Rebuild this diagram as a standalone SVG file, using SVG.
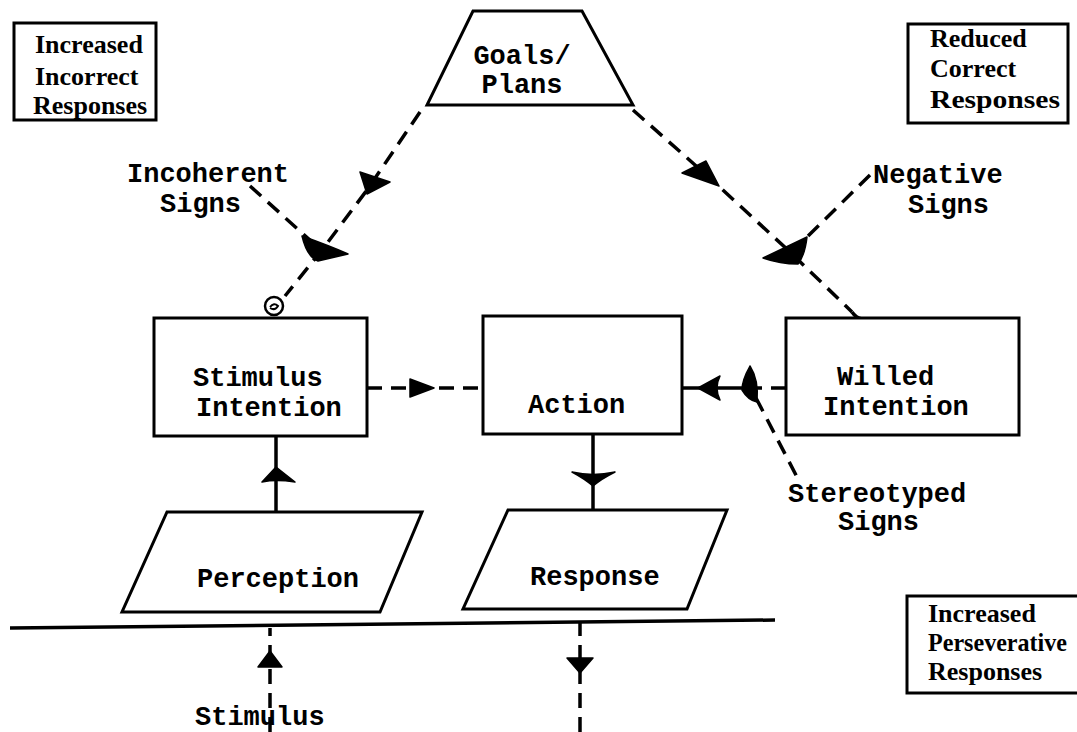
<svg xmlns="http://www.w3.org/2000/svg" width="1077" height="732" viewBox="0 0 1077 732">
<style>
.box{fill:#fff;stroke:#000;stroke-width:3}
.mono{font-family:"Liberation Mono","DejaVu Sans Mono",monospace;font-weight:bold;font-size:27px;fill:#000}
.serif{font-family:"Liberation Serif","Times New Roman",serif;font-weight:bold;font-size:26px;fill:#000}
.dash{fill:none;stroke:#000;stroke-width:3.5;stroke-dasharray:15 9}
.solid{fill:none;stroke:#000;stroke-width:3.5}
.head{fill:#000;stroke:#000;stroke-width:1.5;stroke-linejoin:round}
</style>
<rect width="1077" height="732" fill="#fff"/>

<g id="connectors">
  <!-- Goals to Stimulus Intention -->
  <polyline class="dash" points="420,112 367,190 322,250 285,296"/>
  <!-- Incoherent signs -->
  <line class="dash" x1="250" y1="186" x2="312" y2="242"/>
  <!-- Goals to Willed Intention -->
  <polyline class="dash" points="633,110 712,180 790,252 852,312"/>
  <path class="solid" d="M852,312 Q856,318 862,319" stroke-width="3"/>
  <!-- Negative signs -->
  <line class="dash" x1="870" y1="175" x2="800" y2="244"/>
  <!-- Stimulus Intention to Action -->
  <line class="dash" x1="367" y1="388" x2="483" y2="388"/>
  <!-- Willed Intention to Action -->
  <line class="dash" x1="786" y1="388" x2="756" y2="388"/>
  <line class="solid" x1="745" y1="388" x2="682" y2="388"/>
  <!-- Stereotyped signs -->
  <line class="dash" x1="756" y1="398" x2="797" y2="477"/>
  <!-- Perception to Stimulus Intention -->
  <line class="solid" x1="276" y1="436" x2="276" y2="512"/>
  <!-- Action to Response -->
  <line class="solid" x1="593" y1="434" x2="593" y2="510"/>
  <!-- baseline -->
  <line class="solid" x1="10" y1="628" x2="775" y2="620"/>
  <!-- Stimulus input -->
  <line class="dash" x1="270" y1="732" x2="270" y2="628" stroke-dasharray="13 9"/>
  <!-- Response output -->
  <line class="dash" x1="580" y1="732" x2="580" y2="622" stroke-dasharray="16 10"/>

  <!-- arrowheads -->
  <polygon class="head" points="360,172 390,182 367,194"/>
  <polygon class="head" points="682,173 706,161 719,186"/>
  <polygon class="head" points="410,379 434,388 410,397"/>
  <path class="head" d="M698,388 L720,376 Q714,388 720,400 Z"/>
  <path class="head" d="M276,467 L295,482 Q276,479 262,482 Z"/>
  <path class="head" d="M572,472 Q593,477 615,472 Q601,479 593,486 Q585,479 572,472 Z"/>
  <polygon class="head" points="270,651 282,667 258,667"/>
  <polygon class="head" points="567,658 593,658 580,673"/>
  <!-- junction marks -->
  <path class="head" d="M302,236 Q307,257 318,261 L348,254 Q330,246 302,236 Z"/>
  <path class="head" d="M763,258 L807,237 Q805,255 798,264 Q780,264 763,258 Z"/>
  <path class="head" d="M750,366 Q742,380 742,390 Q748,400 757,402 Q759,380 750,366 Z"/>
  <!-- small loop on Stimulus Intention -->
  <circle cx="274" cy="306" r="9" fill="#fff" stroke="#000" stroke-width="2.5"/>
  <path d="M270,307 Q274,302 278,306 Q275,311 270,308" fill="none" stroke="#000" stroke-width="2"/>
</g>

<g id="goals">
  <polygon class="box" points="473,11 582,11 633,105 427,105"/>
  <text class="mono" x="522" y="64" text-anchor="middle" font-size="23">Goals/</text>
  <text class="mono" x="522" y="93" text-anchor="middle" font-size="23">Plans</text>
</g>

<g id="stimulus-intention">
  <rect class="box" x="154" y="318" width="213" height="118"/>
  <text class="mono" x="193" y="386">Stimulus</text>
  <text class="mono" x="196" y="416">Intention</text>
</g>

<g id="action">
  <rect class="box" x="483" y="316" width="199" height="118"/>
  <text class="mono" x="528" y="413">Action</text>
</g>

<g id="willed-intention">
  <rect class="box" x="786" y="318" width="233" height="117"/>
  <text class="mono" x="837" y="385">Willed</text>
  <text class="mono" x="823" y="415">Intention</text>
</g>

<g id="perception">
  <polygon class="box" points="167,512 422,512 380,612 122,612"/>
  <text class="mono" x="197" y="587">Perception</text>
</g>

<g id="response">
  <polygon class="box" points="508,510 727,510 687,609 463,609"/>
  <text class="mono" x="530" y="585">Response</text>
</g>

<g id="labels">
  <text class="mono" x="127" y="182">Incoherent</text>
  <text class="mono" x="160" y="212">Signs</text>
  <text class="mono" x="873" y="183">Negative</text>
  <text class="mono" x="908" y="213">Signs</text>
  <text class="mono" x="788" y="502">Stereotyped</text>
  <text class="mono" x="838" y="530">Signs</text>
  <text class="mono" x="195" y="725">Stimulus</text>
</g>

<g id="increased-incorrect">
  <rect class="box" x="14" y="23" width="142" height="97" stroke-width="2.5"/>
  <text class="serif" x="35" y="53">Increased</text>
  <text class="serif" x="35" y="85">Incorrect</text>
  <text class="serif" x="33" y="114">Responses</text>
</g>

<g id="reduced-correct">
  <rect class="box" x="908" y="24" width="160" height="99" stroke-width="2.5"/>
  <text class="serif" x="930" y="47">Reduced</text>
  <text class="serif" x="930" y="77">Correct</text>
  <text class="serif" x="930" y="108" textLength="130" lengthAdjust="spacingAndGlyphs">Responses</text>
</g>

<g id="increased-perseverative">
  <rect class="box" x="907" y="596" width="180" height="97" stroke-width="2.5"/>
  <text class="serif" x="928" y="622">Increased</text>
  <text class="serif" x="928" y="651" textLength="139" lengthAdjust="spacingAndGlyphs">Perseverative</text>
  <text class="serif" x="928" y="680">Responses</text>
</g>
</svg>
